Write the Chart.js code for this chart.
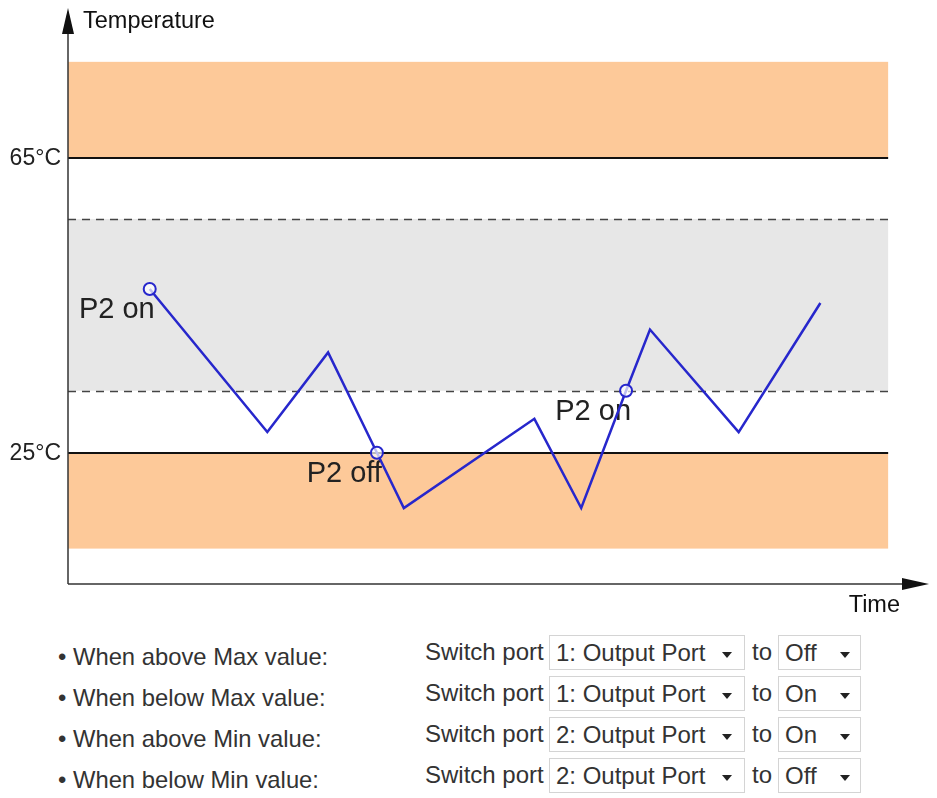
<!DOCTYPE html>
<html>
<head>
<meta charset="utf-8">
<script src="https://cdn.jsdelivr.net/npm/chart.js@4/dist/chart.umd.min.js"></script>
<style>
  body { margin: 0; background: #fff; font-family: "Liberation Sans", Arial, sans-serif; overflow: hidden; }
  #wrap { position: relative; width: 937px; height: 798px; }
  #tempChart { position: absolute; left: 0; top: 0; }
  .row { position: absolute; left: 0; height: 36px; width: 937px; color: #333; font-size: 23px; }
  .row .cond { position: absolute; left: 58px; top: 8px; font-size: 23.8px; }
  .row .sw { position: absolute; left: 425px; top: 3px; font-size: 24px; }
  .row .to { position: absolute; left: 752px; top: 3px; font-size: 24px; }
  .sel { position: absolute; top: 0; height: 35px; border: 1px solid #d4d4d4; background: #fff; box-sizing: border-box; }
  .sel span { position: absolute; left: 6px; top: 3px; font-size: 24px; }
  .sel i { position: absolute; top: 16px; width: 0; height: 0; border-left: 5px solid transparent; border-right: 5px solid transparent; border-top: 6px solid #222; }
  .port { left: 549px; width: 196px; }
  .port i { right: 12px; }
  .state { left: 778px; width: 83px; }
  .state i { right: 10px; }
</style>
</head>
<body>
<div id="wrap">
  <canvas id="tempChart" width="937" height="620"></canvas>
  <div id="rules"></div>
</div>
<script>
// temperature trace (time in arbitrary units, temperature in °C)
const timeSteps = [8.2, 20, 26.1, 31, 33.7, 46.8, 51.5, 56, 58.4, 67.3, 75.5];
const temps = [47.2, 27.8, 38.6, 25, 17.5, 29.6, 17.5, 33.4, 41.7, 27.8, 45.3];
const markerRadius = [6, 0, 0, 6, 0, 0, 0, 6, 0, 0, 0];
const markerIndex = [0, 3, 7];
const markerText = ['P2 on', 'P2 off', 'P2 on'];

// thresholds
const solidLines = [65, 25];
const dashedLines = [56.7, 33.4];
const orangeBands = [[65, 78], [12, 25]];
const grayBand = [33.4, 56.7];
const bandEnd = 82.3;
const yTickValues = [65, 25];
const yTickLabels = ['65°C', '25°C'];

// rules below the chart
const conditions = ['When above Max value:', 'When below Max value:', 'When above Min value:', 'When below Min value:'];
const ports = ['1: Output Port', '1: Output Port', '2: Output Port', '2: Output Port'];
const states = ['Off', 'On', 'On', 'Off'];

const FONT = '"Liberation Sans", Arial, sans-serif';

const thresholdPlugin = {
    id: 'thresholds',
    beforeDatasetsDraw(chart) {
        const { ctx, scales: { x, y } } = chart;
        const x0 = x.getPixelForValue(0);
        const x1 = x.getPixelForValue(bandEnd);
        ctx.save();
        ctx.fillStyle = '#fdc999';
        orangeBands.forEach(([lo, hi]) => {
            const top = y.getPixelForValue(hi);
            ctx.fillRect(x0, top, x1 - x0, y.getPixelForValue(lo) - top);
        });
        ctx.fillStyle = '#e7e7e7';
        const gt = y.getPixelForValue(grayBand[1]);
        ctx.fillRect(x0, gt, x1 - x0, y.getPixelForValue(grayBand[0]) - gt);

        ctx.strokeStyle = '#111';
        ctx.lineWidth = 2;
        solidLines.forEach(v => {
            const py = Math.round(y.getPixelForValue(v));
            ctx.beginPath(); ctx.moveTo(x0, py); ctx.lineTo(x1, py); ctx.stroke();
        });
        ctx.strokeStyle = '#444';
        ctx.lineWidth = 1.5;
        ctx.setLineDash([8, 6]);
        dashedLines.forEach(v => {
            const py = Math.round(y.getPixelForValue(v)) + 0.5;
            ctx.beginPath(); ctx.moveTo(x0, py); ctx.lineTo(x1, py); ctx.stroke();
        });
        ctx.setLineDash([]);

        // tick labels
        ctx.fillStyle = '#222';
        ctx.font = '23px ' + FONT;
        ctx.textAlign = 'right';
        ctx.textBaseline = 'middle';
        yTickValues.forEach((v, i) => ctx.fillText(yTickLabels[i], x0 - 7, y.getPixelForValue(v) + 1));

        // switch labels
        ctx.font = '29px ' + FONT;
        ctx.textBaseline = 'alphabetic';
        markerIndex.forEach((idx, i) => {
            ctx.fillText(markerText[i], x.getPixelForValue(timeSteps[idx]) + 5, y.getPixelForValue(temps[idx]) + 29);
        });
        ctx.restore();
    },
    afterDraw(chart) {
        const { ctx, chartArea, scales: { x, y } } = chart;
        const ox = x.getPixelForValue(0);
        const oy = y.getPixelForValue(y.min);
        ctx.save();
        ctx.strokeStyle = '#333';
        ctx.fillStyle = '#111';
        ctx.lineWidth = 1.5;
        // y axis
        ctx.beginPath(); ctx.moveTo(ox, oy); ctx.lineTo(ox, chartArea.top + 20); ctx.stroke();
        ctx.beginPath();
        ctx.moveTo(ox, chartArea.top);
        ctx.lineTo(ox - 6, chartArea.top + 26);
        ctx.lineTo(ox + 6, chartArea.top + 26);
        ctx.closePath(); ctx.fill();
        // x axis
        ctx.beginPath(); ctx.moveTo(ox, oy); ctx.lineTo(chartArea.right - 20, oy); ctx.stroke();
        ctx.beginPath();
        ctx.moveTo(chartArea.right, oy);
        ctx.lineTo(chartArea.right - 27, oy - 6);
        ctx.lineTo(chartArea.right - 27, oy + 6);
        ctx.closePath(); ctx.fill();

        ctx.fillStyle = '#111';
        ctx.font = '23.5px ' + FONT;
        ctx.textBaseline = 'middle';
        ctx.textAlign = 'left';
        ctx.fillText('Temperature', ox + 15, chartArea.top + 14);
        ctx.textAlign = 'right';
        ctx.fillText('Time', chartArea.right - 29, oy + 22);
        ctx.restore();
    }
};

new Chart(document.getElementById('tempChart'), {
    type: 'line',
    data: {
        datasets: [{
            data: timeSteps.map((t, i) => ({ x: t, y: temps[i] })),
            borderColor: '#2727cc',
            borderWidth: 2.5,
            tension: 0,
            fill: false,
            pointRadius: markerRadius,
            pointBackgroundColor: 'rgba(255,255,255,0.7)',
            pointBorderColor: '#2727cc',
            pointBorderWidth: 2,
        }],
    },
    options: {
        responsive: false,
        animation: false,
        layout: { padding: { left: 68, right: 5, top: 8, bottom: 36 } },
        plugins: { legend: { display: false }, tooltip: { enabled: false } },
        scales: {
            x: { type: 'linear', display: false, min: 0, max: 86.4 },
            y: { display: false, min: 7.2, max: 85.3 },
        },
    },
    plugins: [thresholdPlugin],
});

// rule rows
const rules = document.getElementById('rules');
conditions.forEach((c, i) => {
    const row = document.createElement('div');
    row.className = 'row';
    row.style.top = (635 + i * 41) + 'px';
    row.innerHTML =
        '<span class="cond">\u2022 ' + c + '</span>' +
        '<span class="sw">Switch port</span>' +
        '<div class="sel port"><span>' + ports[i] + '</span><i></i></div>' +
        '<span class="to">to</span>' +
        '<div class="sel state"><span>' + states[i] + '</span><i></i></div>';
    rules.appendChild(row);
});
</script>
</body>
</html>
